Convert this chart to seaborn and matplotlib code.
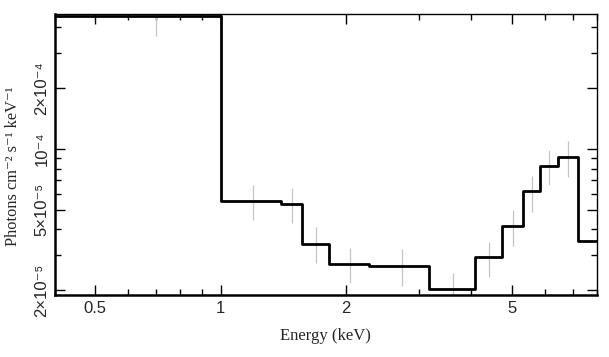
import numpy as np
import pandas as pd
import matplotlib
matplotlib.use("Agg")
import matplotlib.pyplot as plt
from matplotlib.ticker import FixedLocator, NullFormatter
import seaborn as sns

# bin edges (keV) and unfolded flux per bin
edges = [0.4, 1.0, 1.395, 1.567, 1.82, 2.274, 3.17, 4.07, 4.73, 5.31, 5.84, 6.44, 7.21, 10.0]
flux = [4.56e-4, 5.55e-5, 5.36e-5, 3.40e-5, 2.69e-5, 2.64e-5, 2.03e-5,
        2.92e-5, 4.16e-5, 6.20e-5, 8.24e-5, 9.13e-5, 3.51e-5]
err_lo = [3.63e-4, 4.45e-5, 4.30e-5, 2.73e-5, 2.17e-5, 2.10e-5, 1.65e-5,
          2.33e-5, 3.30e-5, 4.88e-5, 6.64e-5, 7.27e-5, 2.90e-5]
err_hi = [5.50e-4, 6.64e-5, 6.40e-5, 4.11e-5, 3.23e-5, 3.20e-5, 2.43e-5,
          3.47e-5, 4.98e-5, 7.35e-5, 9.90e-5, 1.095e-4, 4.20e-5]

ytick_vals = [2e-5, 5e-5, 1e-4, 2e-4]
ytick_labels = ["2×10⁻⁵", "5×10⁻⁵", "10⁻⁴", "2×10⁻⁴"]
xtick_vals = [0.5, 1, 2, 5]
xtick_labels = ["0.5", "1", "2", "5"]

sns.set_theme(style="ticks")
plt.rcParams["font.family"] = ["Liberation Sans", "DejaVu Sans"]

step_df = pd.DataFrame({"energy": edges, "flux": flux + [flux[-1]]})
centers = [(a + b) / 2 for a, b in zip(edges[:-1], edges[1:])]

fig = plt.figure(figsize=(6.09, 3.57), dpi=100)
ax = fig.add_axes([0.0903, 0.1737, 0.8897, 0.7871])
ax.set_xscale("log")
ax.set_yscale("log")

ax.vlines(centers, err_lo, err_hi, color="#c4c4c4", linewidth=0.9, zorder=1)
sns.lineplot(data=step_df, x="energy", y="flux", drawstyle="steps-post",
             color="black", linewidth=2.0, ax=ax, zorder=2)

ax.set_xlim(0.4, 8.0)
ax.set_ylim(1.894e-5, 4.66e-4)

ax.xaxis.set_major_locator(FixedLocator(xtick_vals))
ax.set_xticklabels(xtick_labels, fontsize=12)
ax.xaxis.set_minor_locator(FixedLocator([0.4, 0.6, 0.7, 0.8, 0.9, 3, 4, 6, 7, 8]))
ax.xaxis.set_minor_formatter(NullFormatter())

ax.yaxis.set_major_locator(FixedLocator(ytick_vals))
ax.set_yticklabels(ytick_labels, fontsize=12, rotation=90, va="center")
ax.yaxis.set_minor_locator(FixedLocator([3e-5, 4e-5, 6e-5, 7e-5, 8e-5, 9e-5, 3e-4, 4e-4]))
ax.yaxis.set_minor_formatter(NullFormatter())

ax.tick_params(which="both", direction="in", top=True, right=True, color="black")
ax.tick_params(which="major", length=7, width=1.0, pad=4)
ax.tick_params(which="minor", length=4, width=1.0)

for side in ["left", "bottom"]:
    ax.spines[side].set_linewidth(1.8)
for side in ["top", "right"]:
    ax.spines[side].set_linewidth(1.0)
for sp in ax.spines.values():
    sp.set_color("black")

serif = ["Liberation Serif", "DejaVu Serif"]
ax.set_xlabel("Energy (keV)", family=serif, fontsize=12, labelpad=9)
ax.set_ylabel("Photons cm⁻² s⁻¹ keV⁻¹", family=serif, fontsize=11.8)
ax.yaxis.set_label_coords(-0.062, 0.459)

fig.savefig("out.png", dpi=100)
